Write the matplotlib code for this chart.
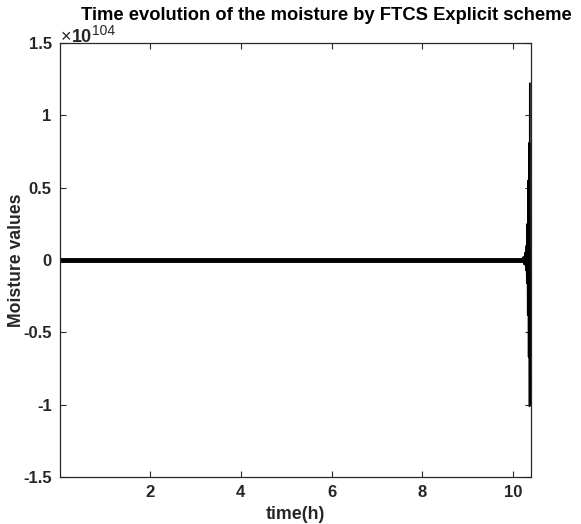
import matplotlib
matplotlib.use("Agg")
import matplotlib.pyplot as plt
import numpy as np

plt.rcParams['font.family'] = ['Liberation Sans', 'DejaVu Sans']

# Data (moisture values in units of 1e104)
time_base = [0.01, 5.0, 10.20, 10.26]
moist_base = [0.0, 0.0, 0.0, 0.0]
time_tail = [10.20, 10.23, 10.25, 10.27, 10.29, 10.30, 10.31, 10.32, 10.33, 10.34, 10.35, 10.36, 10.37, 10.375]
moist_tail = [0.0, 0.02, -0.03, 0.05, -0.07, 0.10, -0.16, 0.25, -0.38, 0.55, -0.67, 0.81, -1.01, 1.22]
xticks = [2, 4, 6, 8, 10]
xticklabels = ['2', '4', '6', '8', '10']
yticks = [-1.5, -1, -0.5, 0, 0.5, 1, 1.5]
yticklabels = ['-1.5', '-1', '-0.5', '0', '0.5', '1', '1.5']
exponent = 104

W, H = 581, 524
fig = plt.figure(figsize=(W / 100, H / 100), dpi=100)
ax = fig.add_axes([60 / W, 1 - 477 / H, (531 - 60) / W, (477 - 43) / H])

ax.plot(time_base, moist_base, color='black', lw=3.5, solid_capstyle='butt')
ax.plot(time_tail, moist_tail, color='black', lw=1.3)

ax.set_xlim(0.01, 10.4)
ax.set_ylim(-1.5, 1.5)
ax.set_xticks(xticks)
ax.set_xticklabels(xticklabels)
ax.set_yticks(yticks)
ax.set_yticklabels(yticklabels)

dark = '#262626'
ax.tick_params(direction='in', top=True, right=True, length=4, width=0.8,
               labelsize=12, colors=dark)
ax.tick_params(axis='x', pad=6)
ax.tick_params(axis='y', pad=6)
for lab in ax.get_xticklabels() + ax.get_yticklabels():
    lab.set_fontweight('bold')
for s in ax.spines.values():
    s.set_color(dark)
    s.set_linewidth(0.9)

# exponent marker above the y axis
fig.text(61 / W, 1 - 42 / H, '\u00d7', ha='left', va='baseline', fontsize=13, color=dark)
fig.text(72 / W, 1 - 42 / H, '10', ha='left', va='baseline', fontsize=13,
         fontweight='bold', color=dark)
fig.text(92 / W, 1 - 35 / H, str(exponent), ha='left', va='baseline', fontsize=10,
         color=dark)

ax.set_xlabel('time(h)', fontsize=12.8, fontweight='bold', color=dark)
ax.xaxis.set_label_coords(0.5, -29 / 434)
ax.set_ylabel('Moisture values', fontsize=12.7, fontweight='bold', color=dark)
ax.yaxis.set_label_coords(-35 / 471, 0.5)

fig.text(326 / W, 1 - 20.5 / H, 'Time evolution of the moisture by FTCS Explicit scheme',
         ha='center', va='baseline', fontsize=13.2, fontweight='bold', color='black')

fig.savefig('out.png', dpi=100)
